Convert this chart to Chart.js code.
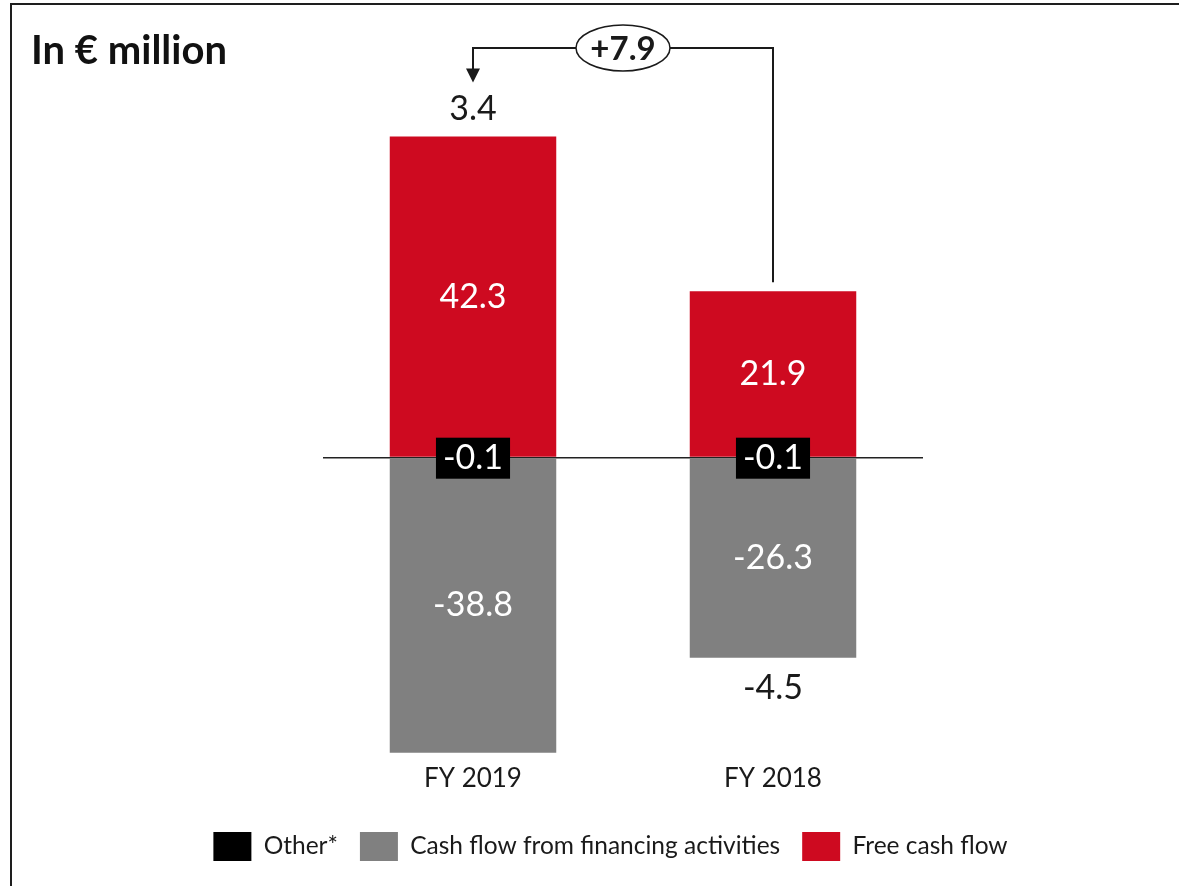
<!DOCTYPE html>
<html>
<head>
<meta charset="utf-8">
<title>Cash flow bridge</title>
<script src="https://cdn.jsdelivr.net/npm/chart.js@4/dist/chart.umd.min.js"></script>
<style>
  html, body { margin: 0; padding: 0; background: #fff; }
  body { width: 1179px; height: 886px; position: relative; overflow: hidden; }
  #frame {
    position: absolute; left: 10px; top: 3px; right: -4px; bottom: -4px;
    border-top: 2px solid #1e1e1e; border-left: 2px solid #1e1e1e;
  }
  #heading {
    position: absolute; left: 31px; top: 29px; margin: 0;
    font: bold 40px/40px Lato, "Open Sans", sans-serif; color: #111;
    white-space: nowrap;
  }
  #chart { position: absolute; left: 0; top: 0; }
</style>
</head>
<body>
<div id="frame"></div>
<canvas id="chart" width="1179" height="886"></canvas>
<h1 id="heading">In € million</h1>
<script>
// Categories and series (in € million)
const categories = ['FY 2019', 'FY 2018'];
const seriesNames = ['Other*', 'Cash flow from financing activities', 'Free cash flow'];
const otherValues = [-0.1, -0.1];
const financingValues = [-38.8, -26.3];
const freeCashFlowValues = [42.3, 21.9];

const RED = '#ce0a20';
const GREY = '#808080';
const BLACK = '#000000';
const INK = '#1a1a1a';
const FONT = 'Lato, "Open Sans", sans-serif';

const fmt = v => v.toFixed(1);

// Value labels, stack totals and the year-on-year bracket
const bridgeLabels = {
  id: 'bridgeLabels',
  afterDatasetsDraw(chart) {
    const ctx = chart.ctx;
    const xS = chart.scales.x, yS = chart.scales.y;
    const area = chart.chartArea;
    ctx.save();
    ctx.textAlign = 'center';
    ctx.textBaseline = 'middle';

    // segment labels
    ctx.font = '34px ' + FONT;
    chart.data.datasets.forEach((ds, di) => {
      const meta = chart.getDatasetMeta(di);
      meta.data.forEach((bar, i) => {
        const txt = fmt(ds.data[i]);
        const cy = (bar.y + bar.base) / 2;
        if (ds.boxedLabel) {
          const w = ctx.measureText(txt).width + 14;
          const h = 41;
          ctx.fillStyle = BLACK;
          ctx.fillRect(bar.x - w / 2, cy - h / 2, w, h);
        }
        ctx.fillStyle = '#ffffff';
        ctx.fillText(txt, bar.x, cy);
      });
    });

    // stack totals
    const n = categories.length;
    const totals = [], totalY = [], topPx = [];
    for (let i = 0; i < n; i++) {
      let pos = 0, neg = 0;
      chart.data.datasets.forEach(ds => {
        const v = ds.data[i];
        if (v >= 0) pos += v; else neg += v;
      });
      const total = Math.round((pos + neg) * 10) / 10;
      totals.push(total);
      topPx.push(yS.getPixelForValue(pos));
      const y = total >= 0 ? yS.getPixelForValue(pos) - 27 : yS.getPixelForValue(neg) + 30;
      totalY.push(y);
      ctx.fillStyle = INK;
      ctx.fillText(fmt(total), xS.getPixelForValue(i), y);
    }

    // bracket from FY 2018 to FY 2019 with the change in the middle
    const xFrom = xS.getPixelForValue(1), xTo = xS.getPixelForValue(0);
    const yLine = area.top - 30;
    const yStart = topPx[1] - 9;
    const yTip = totalY[0] - 27;
    ctx.strokeStyle = INK;
    ctx.lineWidth = 2;
    ctx.beginPath();
    ctx.moveTo(xFrom, yStart);
    ctx.lineTo(xFrom, yLine);
    ctx.lineTo(xTo, yLine);
    ctx.lineTo(xTo, yTip - 13);
    ctx.stroke();
    ctx.fillStyle = INK;
    ctx.beginPath();
    ctx.moveTo(xTo - 7, yTip - 14);
    ctx.lineTo(xTo + 7, yTip - 14);
    ctx.lineTo(xTo, yTip);
    ctx.closePath();
    ctx.fill();

    const diff = Math.round((totals[0] - totals[1]) * 10) / 10;
    const cx = (xFrom + xTo) / 2;
    ctx.beginPath();
    ctx.ellipse(cx, yLine, 47, 23, 0, 0, Math.PI * 2);
    ctx.fillStyle = '#ffffff';
    ctx.fill();
    ctx.lineWidth = 1.5;
    ctx.stroke();
    ctx.fillStyle = INK;
    ctx.font = 'bold 33px ' + FONT;
    ctx.fillText((diff >= 0 ? '+' : '') + fmt(diff), cx, yLine + 1);
    ctx.restore();
  }
};

function build() {
  Chart.defaults.font.family = FONT;
  Chart.defaults.color = INK;
  new Chart(document.getElementById('chart'), {
    type: 'bar',
    data: {
      labels: categories,
      datasets: [
        { label: seriesNames[0], data: otherValues, backgroundColor: BLACK, boxedLabel: true },
        { label: seriesNames[1], data: financingValues, backgroundColor: GREY },
        { label: seriesNames[2], data: freeCashFlowValues, backgroundColor: RED }
      ]
    },
    options: {
      responsive: false,
      devicePixelRatio: 1,
      animation: false,
      datasets: { bar: { categoryPercentage: 0.555, barPercentage: 1, borderWidth: 0 } },
      layout: { padding: { left: 42, right: 0, top: 78, bottom: 15 } },
      plugins: {
        title: { display: false },
        tooltip: { enabled: false },
        legend: {
          position: 'bottom',
          labels: {
            boxWidth: 38, boxHeight: 29, padding: 22,
            font: { size: 24.5 }, color: INK
          }
        }
      },
      scales: {
        x: {
          stacked: true,
          grid: { display: false, drawTicks: false },
          border: { display: false },
          ticks: { font: { size: 26 }, color: INK, padding: 2 },
          afterFit(scale) { scale.height = 49; }
        },
        y: {
          stacked: true,
          min: -40, max: 50,
          ticks: { display: false, stepSize: 10 },
          border: { display: false },
          grid: {
            drawTicks: false,
            lineWidth: 1.5,
            color: c => (c.tick && c.tick.value === 0 ? '#222222' : 'rgba(0,0,0,0)')
          },
          afterFit(scale) { scale.width = 281; }
        },
        yRight: {
          position: 'right',
          display: true,
          ticks: { display: false },
          grid: { display: false, drawTicks: false },
          border: { display: false },
          afterFit(scale) { scale.width = 256; }
        }
      }
    },
    plugins: [bridgeLabels]
  });
}

const fontReady = document.fonts && document.fonts.load
  ? Promise.all([document.fonts.load('34px Lato'), document.fonts.load('bold 33px Lato')])
  : Promise.resolve();
fontReady.then(build, build);
</script>
</body>
</html>
